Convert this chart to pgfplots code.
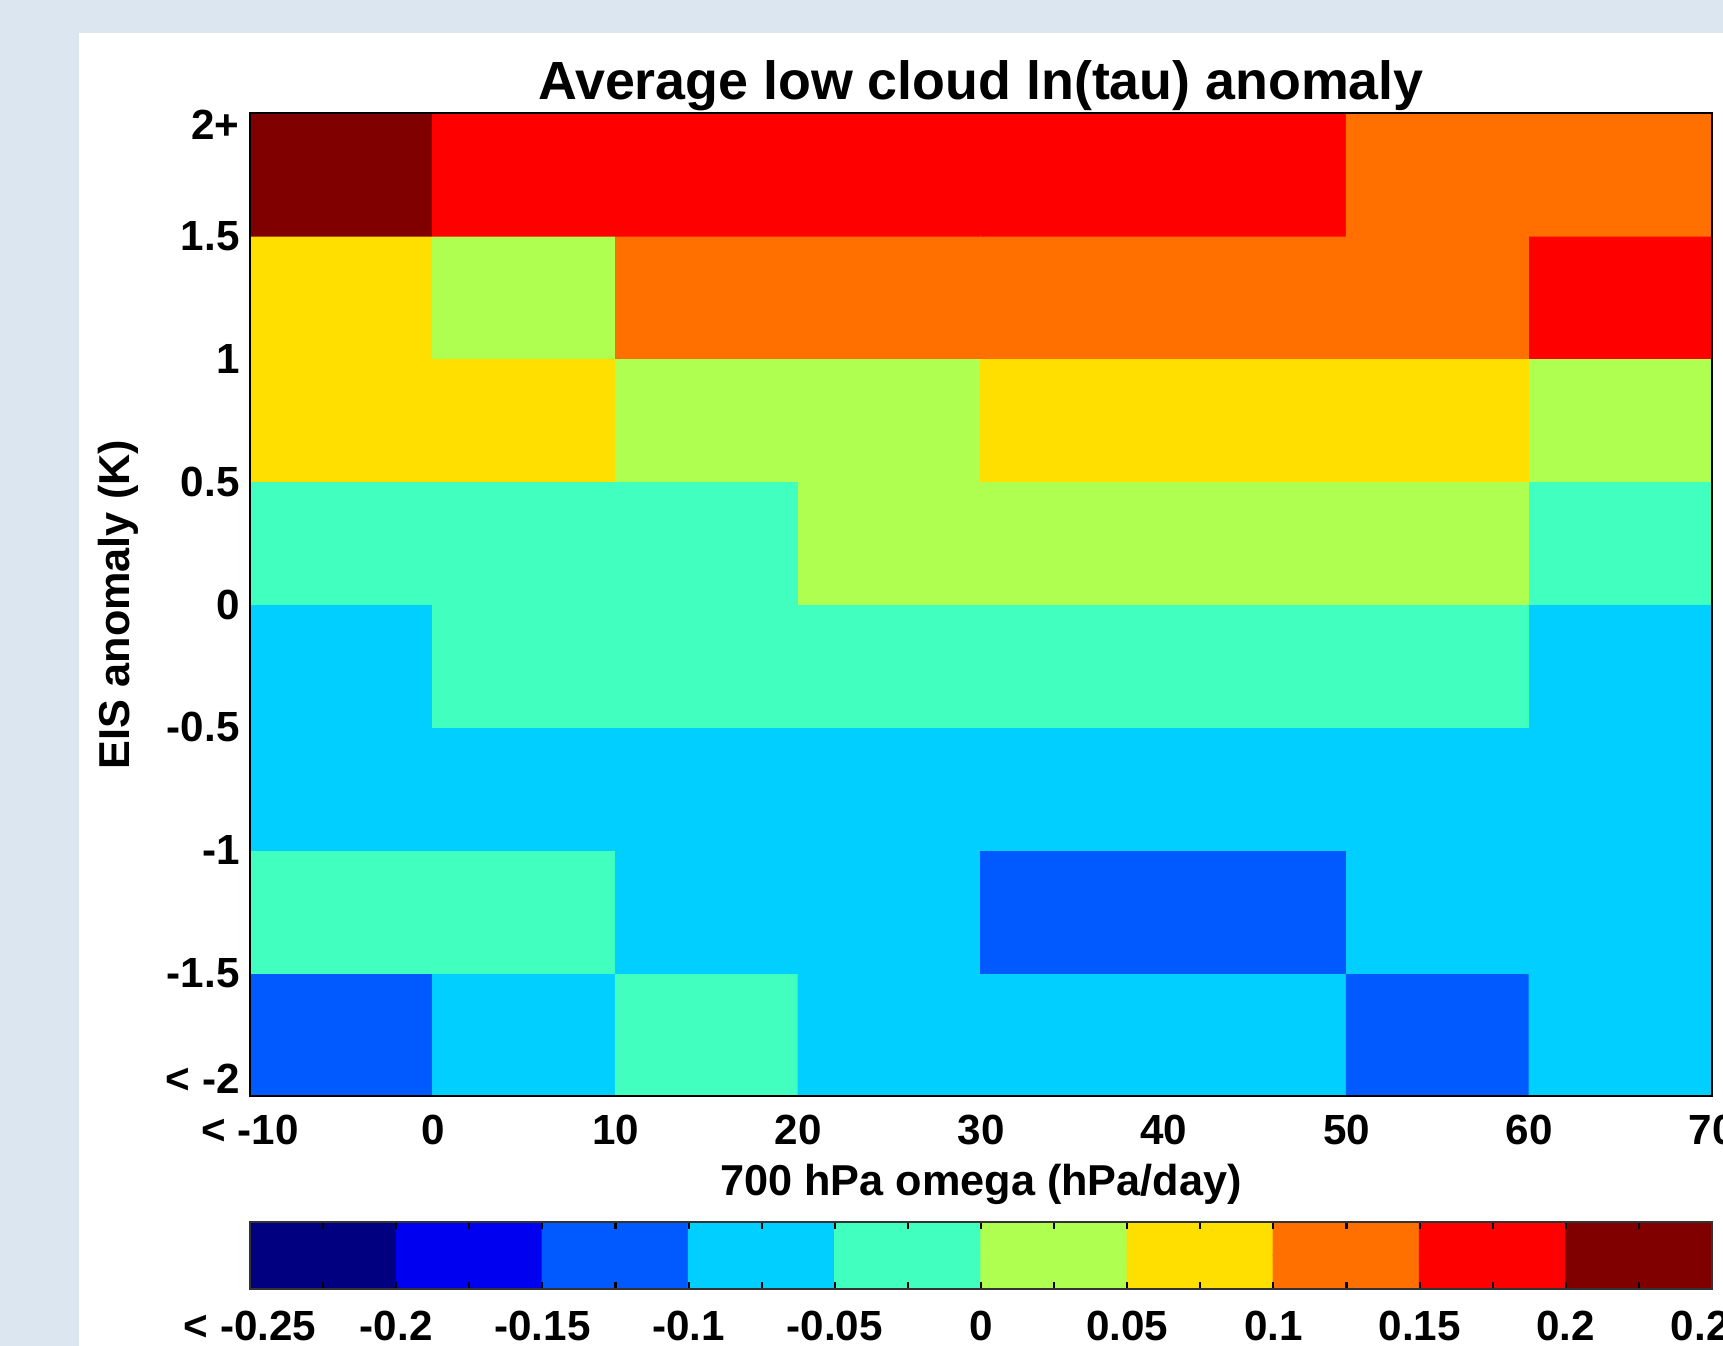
\documentclass[border=0pt]{standalone}
\usepackage{fontspec}
\setmainfont{Liberation Sans}
\usepackage{pgfplots}
\pgfplotsset{compat=1.18}
\definecolor{bgcol}{RGB}{220,230,241}

\pgfplotstableread{
x y c
-5 -1.75 2
5 -1.75 3
15 -1.75 4
25 -1.75 3
35 -1.75 3
45 -1.75 3
55 -1.75 2
65 -1.75 3
-5 -1.25 4
5 -1.25 4
15 -1.25 3
25 -1.25 3
35 -1.25 2
45 -1.25 2
55 -1.25 3
65 -1.25 3
-5 -0.75 3
5 -0.75 3
15 -0.75 3
25 -0.75 3
35 -0.75 3
45 -0.75 3
55 -0.75 3
65 -0.75 3
-5 -0.25 3
5 -0.25 4
15 -0.25 4
25 -0.25 4
35 -0.25 4
45 -0.25 4
55 -0.25 4
65 -0.25 3
-5 0.25 4
5 0.25 4
15 0.25 4
25 0.25 5
35 0.25 5
45 0.25 5
55 0.25 5
65 0.25 4
-5 0.75 6
5 0.75 6
15 0.75 5
25 0.75 5
35 0.75 6
45 0.75 6
55 0.75 6
65 0.75 5
-5 1.25 6
5 1.25 5
15 1.25 7
25 1.25 7
35 1.25 7
45 1.25 7
55 1.25 7
65 1.25 8
-5 1.75 9
5 1.75 8
15 1.75 8
25 1.75 8
35 1.75 8
45 1.75 8
55 1.75 7
65 1.75 7
}\cells

\pgfplotstableread{
x y c
-0.225 0.25 0
-0.175 0.25 1
-0.125 0.25 2
-0.075 0.25 3
-0.025 0.25 4
0.025 0.25 5
0.075 0.25 6
0.125 0.25 7
0.175 0.25 8
0.225 0.25 9
-0.225 0.75 0
-0.175 0.75 1
-0.125 0.75 2
-0.075 0.75 3
-0.025 0.75 4
0.025 0.75 5
0.075 0.75 6
0.125 0.75 7
0.175 0.75 8
0.225 0.75 9
}\cbar

\pgfplotsset{
  jetten/.style={
    colormap={jetten}{rgb255=(0,0,128) rgb255=(0,0,240) rgb255=(0,90,255)
      rgb255=(0,207,255) rgb255=(64,255,191) rgb255=(175,255,80)
      rgb255=(255,223,0) rgb255=(255,112,0) rgb255=(255,0,0) rgb255=(128,0,0)},
    colormap access=direct},
  ticklbl/.style={font=\fontsize{12}{14}\selectfont\bfseries},
}

\begin{document}
\begin{tikzpicture}
\useasboundingbox (0,0) rectangle (172.3mm,134.6mm);
\clip (0,0) rectangle (172.3mm,134.6mm);
\fill[bgcol] (0,0) rectangle (172.3mm,134.6mm);
\fill[white] (7.9mm,0) rectangle (172.3mm,131.3mm);

\begin{axis}[
  at={(25mm,25mm)}, anchor=south west,
  scale only axis, width=146.2mm, height=98.3mm,
  jetten,
  xmin=-10, xmax=70, ymin=-2, ymax=2,
  enlargelimits=false,
  axis on top,
  axis line style={line width=0.6pt, black},
  major tick length=0pt,
  xtick={-10,0,10,20,30,40,50,60,70},
  xticklabels={{< -10},0,10,20,30,40,50,60,70},
  ytick={-2,-1.5,-1,-0.5,0,0.5,1,1.5,2},
  yticklabels={{\smash{\raisebox{0.2mm}{< -2}}},-1.5,-1,-0.5,0,0.5,1,1.5,{\smash{\raisebox{-2.7mm}{2+}}}},
  tick label style={ticklbl},
  xticklabel style={anchor=north, yshift=-0.7mm},
  yticklabel style={anchor=east, xshift=0.2mm},
  every axis title shift=0pt,
  title={Average low cloud ln(tau) anomaly},
  title style={font=\fontsize{15.3}{18}\selectfont\bfseries, at={(axis description cs:0.5,1.0142)}, anchor=base},
  xlabel={700 hPa omega (hPa/day)},
  ylabel={EIS anomaly (K)},
  every axis x label/.style={at={(axis description cs:0.5,-0.1017)}, anchor=base, font=\fontsize{12.3}{14}\selectfont\bfseries},
  every axis y label/.style={at={(axis description cs:-0.0903,0.5)}, rotate=90, anchor=center, font=\fontsize{12.3}{14}\selectfont\bfseries},
]
\addplot[matrix plot*, point meta=explicit, mesh/cols=8, shader=flat corner] table[x=x, y=y, meta=c] {\cells};
\end{axis}

\begin{axis}[
  at={(25mm,5.7mm)}, anchor=south west,
  scale only axis, width=146.2mm, height=6.7mm,
  jetten,
  xmin=-0.25, xmax=0.25, ymin=0, ymax=1,
  enlargelimits=false,
  axis on top,
  axis line style={line width=0.5pt, black!80},
  ytick=\empty,
  tick align=inside,
  xtick pos=both,
  xticklabel pos=lower,
  xtick={-0.25,-0.2,-0.15,-0.1,-0.05,0,0.05,0.1,0.15,0.2,0.25},
  xticklabels={{< -0.25},-0.2,-0.15,-0.1,-0.05,0,0.05,0.1,0.15,0.2,0.25},
  minor xtick={-0.225,-0.175,-0.125,-0.075,-0.025,0.025,0.075,0.125,0.175,0.225},
  major tick length=0.7mm, minor tick length=0.7mm,
  every tick/.style={black, line width=0.6pt},
  every minor tick/.style={black, line width=0.6pt},
  tick label style={ticklbl},
  xticklabel style={anchor=north, yshift=-1.0mm},
]
\addplot[matrix plot*, point meta=explicit, mesh/cols=10, shader=flat corner] table[x=x, y=y, meta=c] {\cbar};
\end{axis}
\end{tikzpicture}
\end{document}
